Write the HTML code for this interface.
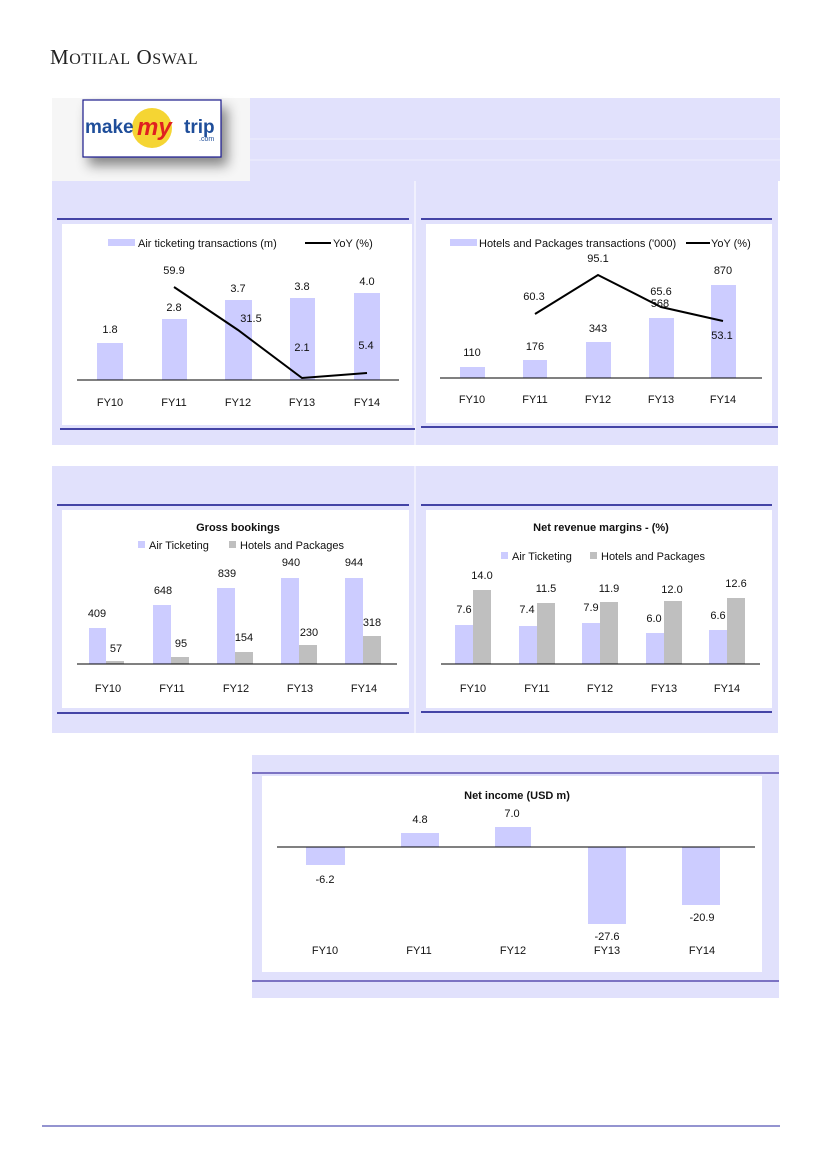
<!DOCTYPE html>
<html><head><meta charset="utf-8"><style>
html,body{margin:0;padding:0;background:#fff}
svg{display:block}
text{font-family:"Liberation Sans",sans-serif;font-size:11px;fill:#111}
.c{text-anchor:middle}
.b{font-weight:bold}
</style></head><body>
<svg width="827" height="1169" viewBox="0 0 827 1169" xmlns="http://www.w3.org/2000/svg">
<defs><filter id="sh" x="-20%" y="-20%" width="150%" height="180%"><feDropShadow dx="6" dy="8" stdDeviation="6" flood-color="#000" flood-opacity="0.45"/></filter></defs>
<text x="50" y="64" style="font-family:'Liberation Serif',serif;font-size:21px;fill:#222;letter-spacing:0.6px">M<tspan style="font-size:16px">OTILAL</tspan> O<tspan style="font-size:16px">SWAL</tspan></text>
<!-- banner -->
<rect x="250" y="98" width="530" height="83" fill="#e1e1fc"/>
<line x1="250" y1="139" x2="780" y2="139" stroke="#eeeefd"/>
<line x1="250" y1="160" x2="780" y2="160" stroke="#eeeefd"/>
<rect x="52" y="98" width="198" height="83" fill="#f6f6f6"/>
<rect x="83" y="100" width="138" height="57" fill="#fff" stroke="#1a1a8a" stroke-width="1.2" filter="url(#sh)"/>
<circle cx="152" cy="128" r="20" fill="#f5d533"/>
<text x="85" y="133" style="font-size:19px;font-weight:bold;fill:#1f4e9a">make</text>
<text x="137" y="135" style="font-size:24px;font-weight:bold;font-style:italic;fill:#e02020">my</text>
<text x="184" y="133" style="font-size:19px;font-weight:bold;fill:#1f4e9a">trip</text>
<text x="199" y="141" style="font-size:7px;fill:#1f4e9a">.com</text>
<!-- row1 panels -->
<rect x="52" y="181" width="726" height="264" fill="#e1e1fc"/>
<line x1="415" y1="181" x2="415" y2="445" stroke="#f0f0fd" stroke-width="2"/>
<line x1="57" y1="219" x2="409" y2="219" stroke="#10108a" stroke-width="1.5"/>
<line x1="421" y1="219" x2="772" y2="219" stroke="#10108a" stroke-width="1.5"/>
<line x1="60" y1="429" x2="415" y2="429" stroke="#10108a" stroke-width="1.5"/>
<line x1="421" y1="427" x2="778" y2="427" stroke="#10108a" stroke-width="1.5"/>
<rect x="62" y="224" width="350" height="201" fill="#fff"/>
<rect x="426" y="224" width="346" height="199" fill="#fff"/>
<!-- chart1 -->
<rect x="108" y="239" width="27" height="7" fill="#ccccff"/>
<text x="138" y="247">Air ticketing transactions (m)</text>
<line x1="305" y1="243" x2="331" y2="243" stroke="#000" stroke-width="2"/>
<text x="333" y="247">YoY (%)</text>
<g fill="#ccccff"><rect x="97" y="343" width="26" height="37"/><rect x="162" y="319" width="25" height="61"/><rect x="225" y="300" width="27" height="80"/><rect x="290" y="298" width="25" height="82"/><rect x="354" y="293" width="26" height="87"/></g>
<line x1="77" y1="380" x2="399" y2="380" stroke="#000"/>
<polyline points="174,287 238,330 302,378 367,373" fill="none" stroke="#000" stroke-width="2"/>
<g class="c"><text class="c" x="110" y="333">1.8</text><text class="c" x="174" y="311">2.8</text><text class="c" x="238" y="292">3.7</text><text class="c" x="302" y="290">3.8</text><text class="c" x="367" y="285">4.0</text>
<text class="c" x="174" y="274">59.9</text><text class="c" x="251" y="322">31.5</text><text class="c" x="302" y="351">2.1</text><text class="c" x="366" y="349">5.4</text>
<text class="c" x="110" y="406">FY10</text><text class="c" x="174" y="406">FY11</text><text class="c" x="238" y="406">FY12</text><text class="c" x="302" y="406">FY13</text><text class="c" x="367" y="406">FY14</text></g>
<!-- chart2 -->
<rect x="450" y="239" width="27" height="7" fill="#ccccff"/>
<text x="479" y="247">Hotels and Packages transactions ('000)</text>
<line x1="686" y1="243" x2="710" y2="243" stroke="#000" stroke-width="2"/>
<text x="711" y="247">YoY (%)</text>
<g fill="#ccccff"><rect x="460" y="367" width="25" height="11"/><rect x="523" y="360" width="24" height="18"/><rect x="586" y="342" width="25" height="36"/><rect x="649" y="318" width="25" height="60"/><rect x="711" y="285" width="25" height="93"/></g>
<line x1="440" y1="378" x2="762" y2="378" stroke="#000"/>
<polyline points="535,314 598,275 661,307 723,321" fill="none" stroke="#000" stroke-width="2"/>
<text class="c" x="472" y="356">110</text><text class="c" x="535" y="350">176</text><text class="c" x="598" y="332">343</text><text class="c" x="660" y="307">568</text><text class="c" x="723" y="274">870</text>
<text class="c" x="534" y="300">60.3</text><text class="c" x="598" y="262">95.1</text><text class="c" x="661" y="295">65.6</text><text class="c" x="722" y="339">53.1</text>
<text class="c" x="472" y="403">FY10</text><text class="c" x="535" y="403">FY11</text><text class="c" x="598" y="403">FY12</text><text class="c" x="661" y="403">FY13</text><text class="c" x="723" y="403">FY14</text>
<!-- row2 -->
<rect x="52" y="466" width="726" height="267" fill="#e1e1fc"/>
<line x1="415" y1="466" x2="415" y2="733" stroke="#f0f0fd" stroke-width="2"/>
<line x1="57" y1="505" x2="409" y2="505" stroke="#10108a" stroke-width="1.5"/>
<line x1="421" y1="505" x2="772" y2="505" stroke="#10108a" stroke-width="1.5"/>
<line x1="57" y1="713" x2="409" y2="713" stroke="#10108a" stroke-width="1.5"/>
<line x1="421" y1="712" x2="772" y2="712" stroke="#10108a" stroke-width="1.5"/>
<rect x="62" y="510" width="347" height="198" fill="#fff"/>
<rect x="426" y="510" width="346" height="198" fill="#fff"/>
<text class="c b" x="238" y="531">Gross bookings</text>
<rect x="138" y="541" width="7" height="7" fill="#ccccff"/><text x="149" y="549">Air Ticketing</text>
<rect x="229" y="541" width="7" height="7" fill="#bfbfbf"/><text x="240" y="549">Hotels and Packages</text>
<g fill="#ccccff"><rect x="89" y="628" width="17" height="36"/><rect x="153" y="605" width="18" height="59"/><rect x="217" y="588" width="18" height="76"/><rect x="281" y="578" width="18" height="86"/><rect x="345" y="578" width="18" height="86"/></g>
<g fill="#bfbfbf"><rect x="106" y="661" width="18" height="3"/><rect x="171" y="657" width="18" height="7"/><rect x="235" y="652" width="18" height="12"/><rect x="299" y="645" width="18" height="19"/><rect x="363" y="636" width="18" height="28"/></g>
<line x1="77" y1="664" x2="397" y2="664" stroke="#000"/>
<text class="c" x="97" y="617">409</text><text class="c" x="116" y="652">57</text><text class="c" x="163" y="594">648</text><text class="c" x="181" y="647">95</text><text class="c" x="227" y="577">839</text><text class="c" x="244" y="641">154</text><text class="c" x="291" y="566">940</text><text class="c" x="309" y="636">230</text><text class="c" x="354" y="566">944</text><text class="c" x="372" y="626">318</text>
<text class="c" x="108" y="692">FY10</text><text class="c" x="172" y="692">FY11</text><text class="c" x="236" y="692">FY12</text><text class="c" x="300" y="692">FY13</text><text class="c" x="364" y="692">FY14</text>
<text class="c b" x="601" y="531">Net revenue margins - (%)</text>
<rect x="501" y="552" width="7" height="7" fill="#ccccff"/><text x="512" y="560">Air Ticketing</text>
<rect x="590" y="552" width="7" height="7" fill="#bfbfbf"/><text x="601" y="560">Hotels and Packages</text>
<g fill="#ccccff"><rect x="455" y="625" width="18" height="39"/><rect x="519" y="626" width="18" height="38"/><rect x="582" y="623" width="18" height="41"/><rect x="646" y="633" width="18" height="31"/><rect x="709" y="630" width="18" height="34"/></g>
<g fill="#bfbfbf"><rect x="473" y="590" width="18" height="74"/><rect x="537" y="603" width="18" height="61"/><rect x="600" y="602" width="18" height="62"/><rect x="664" y="601" width="18" height="63"/><rect x="727" y="598" width="18" height="66"/></g>
<line x1="441" y1="664" x2="760" y2="664" stroke="#000"/>
<text class="c" x="464" y="613">7.6</text><text class="c" x="482" y="579">14.0</text><text class="c" x="527" y="613">7.4</text><text class="c" x="546" y="592">11.5</text><text class="c" x="591" y="611">7.9</text><text class="c" x="609" y="592">11.9</text><text class="c" x="654" y="622">6.0</text><text class="c" x="672" y="593">12.0</text><text class="c" x="718" y="619">6.6</text><text class="c" x="736" y="587">12.6</text>
<text class="c" x="473" y="692">FY10</text><text class="c" x="537" y="692">FY11</text><text class="c" x="600" y="692">FY12</text><text class="c" x="664" y="692">FY13</text><text class="c" x="727" y="692">FY14</text>
<!-- row3 -->
<rect x="252" y="755" width="527" height="243" fill="#e1e1fc"/>
<line x1="252" y1="773" x2="779" y2="773" stroke="#5a4fb0" stroke-width="1.5"/>
<line x1="252" y1="981" x2="779" y2="981" stroke="#5a4fb0" stroke-width="1.5"/>
<rect x="262" y="776" width="500" height="196" fill="#fff"/>
<text class="c b" x="517" y="799">Net income (USD m)</text>
<g fill="#ccccff"><rect x="306" y="847" width="39" height="18"/><rect x="401" y="833" width="38" height="14"/><rect x="495" y="827" width="36" height="20"/><rect x="588" y="847" width="38" height="77"/><rect x="682" y="847" width="38" height="58"/></g>
<line x1="277" y1="847" x2="755" y2="847" stroke="#000"/>
<text class="c" x="325" y="883">-6.2</text><text class="c" x="420" y="823">4.8</text><text class="c" x="512" y="817">7.0</text><text class="c" x="607" y="940">-27.6</text><text class="c" x="702" y="921">-20.9</text>
<text class="c" x="325" y="954">FY10</text><text class="c" x="419" y="954">FY11</text><text class="c" x="513" y="954">FY12</text><text class="c" x="607" y="954">FY13</text><text class="c" x="702" y="954">FY14</text>
<line x1="42" y1="1126" x2="780" y2="1126" stroke="#7070c0" stroke-width="1.5"/>
</svg>
</body></html>
